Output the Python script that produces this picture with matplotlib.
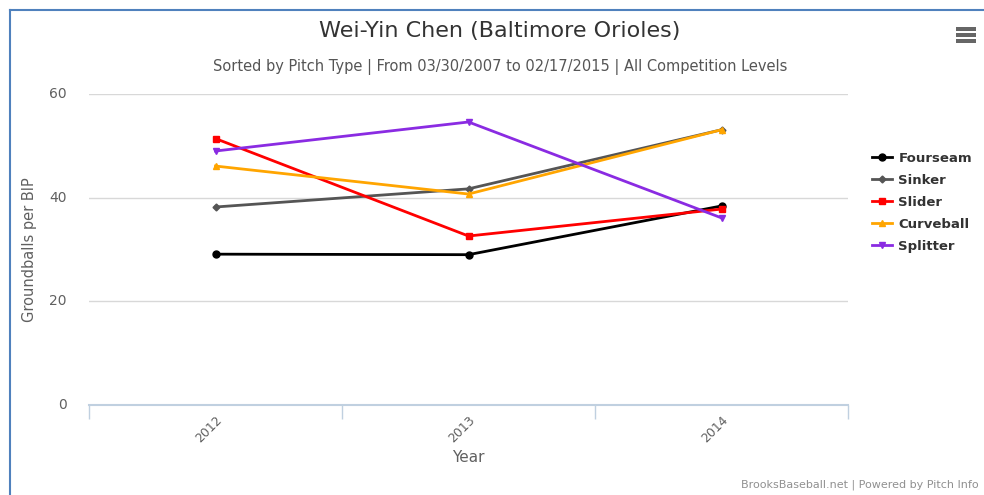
import matplotlib.pyplot as plt
from matplotlib.lines import Line2D
from matplotlib.patches import Rectangle

years = ['2012', '2013', '2014']
fourseam = [29.1, 29.0, 38.4]
sinker = [38.2, 41.7, 53.1]
slider = [51.4, 32.6, 37.8]
curveball = [46.1, 40.7, 53.1]
splitter = [49.0, 54.6, 36.1]

series = [
    ('Fourseam', fourseam, '#000000', 'o', 5),
    ('Sinker', sinker, '#555555', 'D', 3.5),
    ('Slider', slider, '#ff0000', 's', 5),
    ('Curveball', curveball, '#ffa500', '^', 5),
    ('Splitter', splitter, '#8a2be2', 'v', 5),
]

plt.rcParams['font.family'] = ['DejaVu Sans']

fig = plt.figure(figsize=(9.84, 4.95), dpi=100)
ax = fig.add_axes([89/984, 1 - 405/495, (848 - 89)/984, (405 - 94)/495])

x = list(range(len(years)))
handles = []
for name, vals, col, mk, ms in series:
    h, = ax.plot(x, vals, color=col, lw=2, marker=mk, ms=ms, label=name)
    handles.append(h)

ax.set_xlim(-0.5, len(years) - 0.5)
ax.set_ylim(0, 60)
ax.set_yticks([0, 20, 40, 60])
ax.grid(axis='y', color='#d8d8d8', lw=1)
ax.set_axisbelow(True)
for s in ['left', 'right', 'top']:
    ax.spines[s].set_visible(False)
ax.spines['bottom'].set_color('#c0d0e0')
ax.spines['bottom'].set_linewidth(1.5)

ax.set_xticks(x)
ax.set_xticklabels(years, rotation=45, ha='right', rotation_mode='anchor',
                   fontsize=9, color='#606060')
ax.tick_params(axis='x', length=0, pad=6)
ax.set_xticks([-0.5, 0.5, 1.5, 2.5], minor=True)
ax.tick_params(axis='x', which='minor', length=10, color='#c0d0e0', width=1)
ax.tick_params(axis='y', length=0, labelsize=10, labelcolor='#606060', pad=16)
for lbl in ax.get_yticklabels():
    lbl.set_verticalalignment('center')

ax.set_xlabel('Year', fontsize=11, color='#606060', labelpad=4)
ax.set_ylabel('Groundballs per BIP', fontsize=10.5, color='#606060', labelpad=12)
ax.yaxis.set_label_coords(-52/759, 0.5)

fig.text(500/984, 1 - 31/495, 'Wei-Yin Chen (Baltimore Orioles)', ha='center',
         va='center', fontsize=16, color='#333333', fontweight='medium')
fig.text(500/984, 1 - 67/495,
         'Sorted by Pitch Type | From 03/30/2007 to 02/17/2015 | All Competition Levels',
         ha='center', va='center', fontsize=10.5, color='#555555')
fig.text(979/984, 1 - 485/495, 'BrooksBaseball.net | Powered by Pitch Info',
         ha='right', va='center', fontsize=8, color='#909090')

fig.legend(handles=handles, loc='upper left', bbox_to_anchor=(872/984, 1 - 152/495),
           frameon=False, prop={'weight': 'bold', 'size': 9.5}, labelspacing=0.68,
           handlelength=1.5, handletextpad=0.5, labelcolor='#333333',
           borderpad=0, borderaxespad=0)

# outer border (left/top)
fig.add_artist(Line2D([10/984, 10/984], [0, 1 - 10/495], color='#4f81bd', lw=1.5))
fig.add_artist(Line2D([10/984, 1], [1 - 10/495, 1 - 10/495], color='#4f81bd', lw=1.5))

# menu icon
for yy in [29, 35, 41]:
    fig.add_artist(Rectangle((956/984, 1 - (yy + 2)/495), 20/984, 4/495,
                             color='#666666', lw=0))

fig.savefig('out.png', dpi=100)
